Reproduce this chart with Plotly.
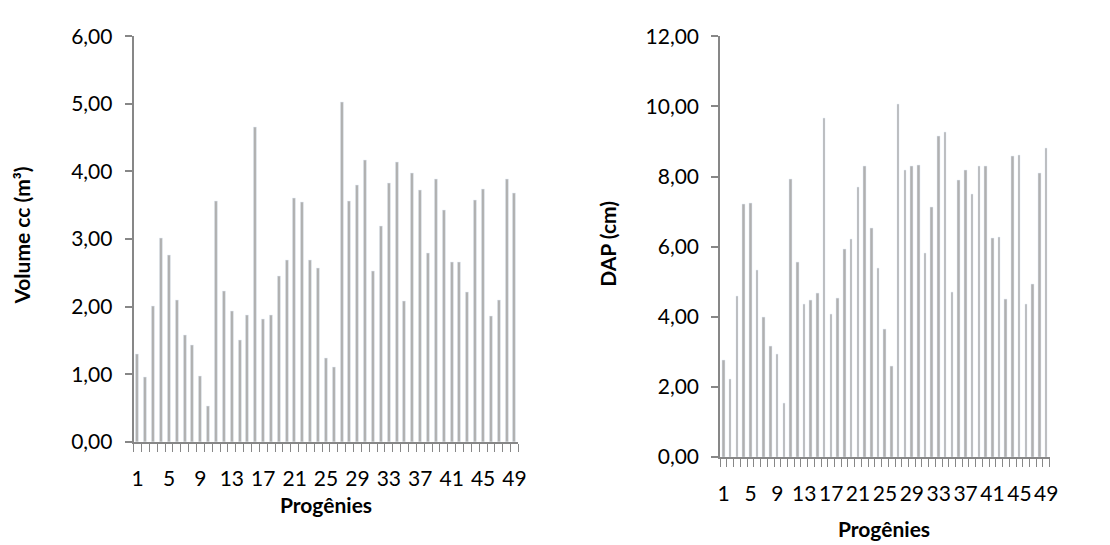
import plotly.graph_objects as go

progenies = list(range(1, 50))
volume = [1.30, 0.96, 2.00, 3.01, 2.76, 2.09, 1.57, 1.43, 0.97, 0.53,
          3.56, 2.22, 1.93, 1.50, 1.87, 4.65, 1.82, 1.87, 2.45, 2.69,
          3.61, 3.55, 2.69, 2.56, 1.24, 1.10, 5.03, 3.56, 3.80, 4.17,
          2.53, 3.19, 3.82, 4.13, 2.08, 3.97, 3.72, 2.79, 3.89, 3.42,
          2.66, 2.66, 2.21, 3.57, 3.73, 1.86, 2.10, 3.88, 3.67]
dap = [2.77, 2.22, 4.58, 7.21, 7.23, 5.33, 4.00, 3.15, 2.94, 1.54,
       7.91, 5.55, 4.35, 4.46, 4.66, 9.66, 4.07, 4.54, 5.92, 6.20,
       7.70, 8.29, 6.53, 5.37, 3.63, 2.60, 10.06, 8.18, 8.28, 8.32,
       5.82, 7.13, 9.15, 9.25, 4.69, 7.89, 8.18, 7.50, 8.28, 8.30,
       6.23, 6.27, 4.50, 8.58, 8.62, 4.35, 4.93, 8.08, 8.80]
xtick_labels = [1, 5, 9, 13, 17, 21, 25, 29, 33, 37, 41, 45, 49]
left_yticks = [0, 1, 2, 3, 4, 5, 6]
right_yticks = [0, 2, 4, 6, 8, 10, 12]

W, H = 1110, 545
BAR = "#B0B0B0"
AX = "#878787"
FONT = "Lato"
TICK = 21
TITLE = 21

def px(x):
    return x / W

def py(y):
    return 1 - y / H

fig = go.Figure()
fig.add_trace(go.Bar(x=progenies, y=volume, marker_color=BAR, width=0.38,
                     xaxis="x", yaxis="y", showlegend=False))
fig.add_trace(go.Bar(x=progenies, y=dap, marker_color=BAR, width=0.38,
                     xaxis="x2", yaxis="y2", showlegend=False))

bounds = [i + 0.5 for i in range(0, 50)]

xcommon = dict(range=[0.5, 49.5], tickvals=xtick_labels, ticks="outside",
               ticklen=17, tickcolor="rgba(0,0,0,0)",
               showline=True, linecolor=AX, linewidth=2, showgrid=False,
               zeroline=False, tickfont=dict(family=FONT, size=TICK, color="#000"),
               minor=dict(tickvals=bounds, ticks="outside", ticklen=8,
                          tickcolor=AX, tickwidth=1.3, showgrid=False))
ycommon = dict(showline=True, linecolor=AX, linewidth=2, showgrid=False,
               zeroline=False, ticks="outside", ticklen=7, tickcolor=AX,
               tickwidth=1.5, tickformat=".2f", ticklabelstandoff=8,
               tickfont=dict(family=FONT, size=TICK, color="#000"))

title_font = dict(family=FONT, size=TITLE, color="#000")

fig.update_layout(
    width=W, height=H, margin=dict(l=0, r=0, t=0, b=0),
    paper_bgcolor="white", plot_bgcolor="white", separators=",.",
    bargap=0,
    xaxis=dict(domain=[px(124), px(513)], anchor="y", **xcommon),
    yaxis=dict(domain=[py(440), py(15)], anchor="x", range=[0, 6],
               tickvals=left_yticks, **ycommon),
    xaxis2=dict(domain=[px(717), px(1050)], anchor="y2", **xcommon),
    yaxis2=dict(domain=[py(456), py(15)], anchor="x2", range=[0, 12],
                tickvals=right_yticks, **ycommon),
    annotations=[
        dict(text="<b>Volume cc (m³)</b>", x=px(11), y=py(224), xref="paper", yref="paper",
             xanchor="center", yanchor="middle",
             textangle=-90, showarrow=False, font=title_font),
        dict(text="<b>Progênies</b>", x=px(318), y=py(506), xref="paper", yref="paper",
             xanchor="center", yanchor="middle",
             showarrow=False, font=title_font),
        dict(text="<b>DAP (cm)</b>", x=px(603), y=py(232), xref="paper", yref="paper",
             xanchor="center", yanchor="middle",
             textangle=-90, showarrow=False, font=title_font),
        dict(text="<b>Progênies</b>", x=px(883), y=py(531), xref="paper", yref="paper",
             xanchor="center", yanchor="middle",
             showarrow=False, font=title_font),
    ],
)

fig.write_html("out.html")
